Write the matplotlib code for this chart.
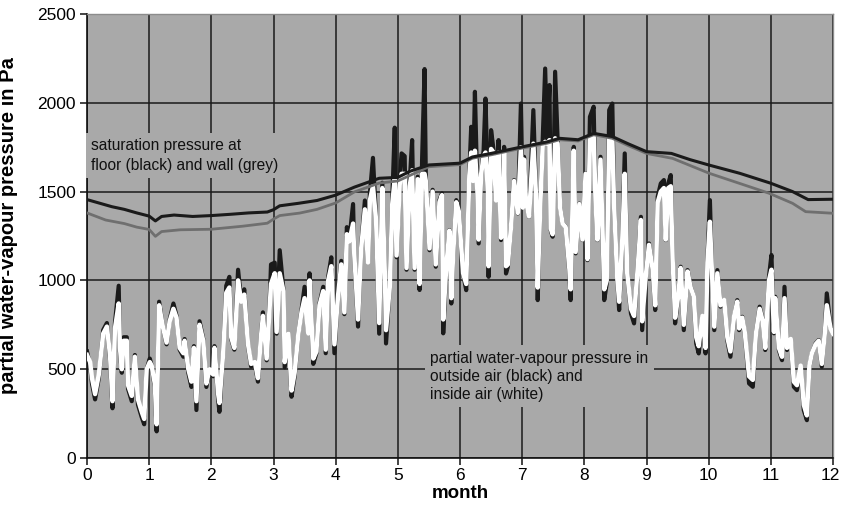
import matplotlib
matplotlib.use("Agg")
import matplotlib.pyplot as plt
from matplotlib.transforms import ScaledTranslation

plt.rcParams['font.family'] = ['Liberation Sans', 'DejaVu Sans']

# --- saturation pressure curves (month, Pa) ---
floor_t = [0, 0.2, 0.4, 0.6, 0.8, 1.0, 1.1, 1.2, 1.4, 1.7, 2.0, 2.3, 2.6, 2.9, 3.0, 3.1, 3.4, 3.7,
           4.0, 4.3, 4.7, 5.0, 5.2, 5.5, 6.0, 6.2, 6.5, 7.0, 7.4, 7.6, 7.9, 8.15, 8.45, 8.7, 9.0,
           9.4, 9.7, 10.0, 10.5, 11.0, 11.35, 11.6, 12.0]
floor_p = [1455, 1435, 1415, 1400, 1380, 1362, 1335, 1360, 1368, 1360, 1365, 1372, 1380, 1385,
           1398, 1420, 1434, 1450, 1480, 1525, 1575, 1580, 1615, 1650, 1660, 1695, 1715, 1752,
           1780, 1800, 1792, 1828, 1810, 1770, 1725, 1715, 1680, 1650, 1603, 1547, 1500, 1455, 1457]

wall_t = [0, 0.3, 0.6, 0.8, 1.0, 1.1, 1.2, 1.5, 2.0, 2.5, 2.9, 3.0, 3.1, 3.42, 3.7, 4.0, 4.3,
          4.7, 5.0, 5.5, 6.0, 6.2, 6.5, 7.0, 7.4, 7.6, 7.9, 8.15, 8.45, 8.7, 9.0, 9.42, 10.01,
          10.49, 10.97, 11.35, 11.56, 12.0]
wall_p = [1380, 1340, 1320, 1300, 1287, 1248, 1275, 1285, 1288, 1305, 1322, 1345, 1365, 1379,
          1400, 1436, 1498, 1548, 1560, 1640, 1652, 1688, 1707, 1745, 1772, 1792, 1785, 1820,
          1800, 1760, 1715, 1687, 1603, 1547, 1491, 1434, 1387, 1378]

# --- partial water-vapour pressure (month, outside Pa, inside Pa) ---
vap_t = [0.00, 0.05, 0.08, 0.13, 0.19, 0.26, 0.32, 0.37, 0.41, 0.45, 0.51, 0.53, 0.56, 0.59,
         0.64, 0.66, 0.72, 0.77, 0.82, 0.88, 0.92, 0.96, 1.01, 1.04, 1.09, 1.12, 1.16, 1.22,
         1.28, 1.33, 1.39, 1.44, 1.49, 1.55, 1.57, 1.63, 1.68, 1.72, 1.76, 1.81, 1.87, 1.92,
         1.97, 2.03, 2.05, 2.11, 2.13, 2.19, 2.24, 2.29, 2.32, 2.37, 2.43, 2.48, 2.53, 2.59,
         2.64, 2.70, 2.75, 2.80, 2.83, 2.89, 2.94, 2.96,
         3.02, 3.05, 3.10, 3.16, 3.18, 3.24, 3.29, 3.34, 3.40, 3.45, 3.50, 3.56, 3.58, 3.64,
         3.69, 3.74, 3.80, 3.84, 3.88, 3.93, 3.98, 4.04, 4.09, 4.14, 4.18, 4.22, 4.28, 4.30,
         4.36, 4.41, 4.47, 4.52, 4.55, 4.60, 4.65, 4.70, 4.75, 4.79, 4.81, 4.87, 4.91, 4.95,
         4.98, 5.03, 5.06, 5.11, 5.14, 5.19, 5.23, 5.27, 5.32, 5.35, 5.39, 5.43, 5.45, 5.51,
         5.56, 5.61, 5.67, 5.71, 5.73, 5.78, 5.83, 5.86, 5.89, 5.94, 5.98,
         6.05, 6.10, 6.15, 6.18, 6.21, 6.24, 6.28, 6.30, 6.34, 6.38, 6.41, 6.45, 6.46, 6.50,
         6.54, 6.58, 6.62, 6.66, 6.69, 6.71, 6.74, 6.77, 6.82, 6.87, 6.93, 6.98, 7.01, 7.03,
         7.06, 7.11, 7.18, 7.22, 7.25, 7.29, 7.33, 7.37, 7.40, 7.44, 7.46, 7.49, 7.53, 7.57,
         7.61, 7.65, 7.70, 7.76, 7.78, 7.83, 7.86, 7.92, 7.97, 8.02, 8.05, 8.09, 8.15, 8.18,
         8.21, 8.26, 8.32, 8.36, 8.40, 8.45, 8.48, 8.53, 8.56, 8.61, 8.65, 8.69, 8.75, 8.80,
         8.85, 8.91, 8.93, 8.99,
         9.04, 9.10, 9.14, 9.18, 9.23, 9.28, 9.31, 9.35, 9.39, 9.42, 9.46, 9.51, 9.55, 9.60,
         9.66, 9.71, 9.76, 9.80, 9.84, 9.90, 9.95, 9.98, 10.02, 10.05, 10.09, 10.14, 10.19,
         10.25, 10.30, 10.35, 10.41, 10.46, 10.49, 10.54, 10.58, 10.65, 10.71, 10.76, 10.82,
         10.87, 10.91, 10.97, 11.01, 11.05, 11.07, 11.13, 11.18, 11.22, 11.26, 11.32, 11.37,
         11.42, 11.48, 11.53, 11.58, 11.62, 11.66, 11.72, 11.77, 11.82, 11.87, 11.90, 11.96, 12.00]

outside_p = [600, 520, 420, 330, 450, 720, 760, 560, 280, 760, 970, 600, 480, 680,
             680, 390, 320, 580, 300, 230, 190, 500, 560, 520, 400, 150, 880, 740,
             640, 780, 870, 800, 610, 570, 670, 480, 400, 630, 270, 770, 670, 400,
             500, 460, 630, 330, 260, 590, 970, 1020, 670, 610, 1060, 890, 950, 630,
             515, 530, 430, 700, 820, 550, 890, 1090,
             1100, 700, 1170, 946, 510, 700, 345, 460, 700, 830, 964, 700, 1040, 530,
             590, 870, 964, 590, 1020, 1130, 590, 930, 1110, 810, 1300, 1230, 1430, 1130,
             740, 1190, 1450, 1100, 1490, 1690, 1340, 700, 1550, 1040, 645, 964, 1450, 1860,
             1130, 1565, 1715, 1700, 1060, 1546, 1790, 1060, 1584, 946, 1677, 2190, 1584, 1170,
             1510, 1077, 1452, 1490, 702, 1077, 1283, 870, 1152, 1452, 1396,
             1039, 945, 1602, 1865, 1565, 2062, 1508, 1208, 1602, 1734, 2024, 1508, 1020, 1846,
             1734, 1452, 1790, 1227, 1302, 1752, 1039, 1077, 1302, 1565, 1377, 1996, 1414, 1696,
             1452, 1358, 1959, 1508, 889, 1414, 1790, 2193, 1790, 2100, 1283, 1246, 2175, 1790,
             1414, 1321, 1302, 1039, 889, 1752, 1152, 1433, 1227, 1602, 1114, 1921, 1978, 1452,
             1227, 1696, 889, 983, 1959, 1996, 1414, 1002, 833, 1227, 1715, 1039, 814, 758,
             1039, 1358, 720, 1039,
             1208, 1058, 833, 1471, 1546, 1565, 1227, 1546, 1593, 1114, 758, 908, 1077, 720,
             1058, 964, 908, 645, 589, 795, 589, 1114, 1452, 1077, 720, 1058, 852,
             889, 664, 570, 795, 889, 720, 795, 702, 420, 401, 702, 852,
             777, 608, 1021, 1143, 702, 908, 608, 551, 964, 608, 664, 401,
             382, 514, 270, 213, 514, 589, 645, 664, 514, 720, 927, 739, 702]

inside_p = [580, 540, 450, 360, 470, 700, 740, 580, 320, 730, 870, 620, 500, 660,
            660, 410, 350, 570, 330, 260, 220, 500, 540, 520, 420, 190, 860, 740,
            650, 770, 840, 790, 620, 590, 660, 500, 430, 620, 320, 750, 660, 420,
            500, 470, 620, 360, 310, 590, 930, 960, 680, 620, 1000, 880, 920, 640,
            530, 540, 450, 690, 800, 560, 860, 980,
            1040, 710, 1040, 940, 540, 700, 380, 480, 700, 820, 900, 700, 1000, 560,
            600, 860, 940, 610, 1000, 1080, 640, 920, 1090, 820, 1260, 1220, 1320, 1140,
            780, 1180, 1400, 1100, 1450, 1530, 1340, 760, 1520, 1050, 720, 960, 1430, 1570,
            1140, 1540, 1600, 1600, 1070, 1530, 1620, 1070, 1570, 980, 1600, 1600, 1560, 1180,
            1500, 1090, 1440, 1480, 780, 1080, 1280, 900, 1150, 1440, 1390,
            1040, 980, 1590, 1720, 1560, 1730, 1500, 1230, 1600, 1700, 1720, 1500, 1080, 1740,
            1720, 1450, 1720, 1240, 1300, 1720, 1080, 1090, 1300, 1560, 1380, 1750, 1410, 1680,
            1450, 1360, 1770, 1500, 960, 1410, 1760, 1780, 1770, 1790, 1290, 1260, 1800, 1770,
            1410, 1320, 1300, 1060, 950, 1730, 1160, 1430, 1230, 1600, 1120, 1800, 1820, 1450,
            1230, 1680, 950, 1000, 1800, 1800, 1410, 1010, 880, 1230, 1600, 1040, 840, 800,
            1030, 1340, 770, 1030,
            1200, 1060, 860, 1440, 1500, 1520, 1230, 1520, 1530, 1120, 790, 910, 1070, 750,
            1050, 960, 910, 680, 630, 800, 620, 1100, 1330, 1070, 740, 1040, 860,
            890, 680, 600, 800, 880, 730, 790, 710, 460, 440, 700, 840,
            770, 620, 1000, 1060, 710, 900, 620, 570, 900, 620, 670, 430,
            410, 520, 300, 240, 520, 590, 640, 660, 530, 710, 860, 730, 700]

x_ticks = list(range(0, 13))
y_ticks = [0, 500, 1000, 1500, 2000, 2500]

BG = '#a9a9a9'

fig = plt.figure(figsize=(8.41, 5.08), dpi=100)
fig.patch.set_facecolor('white')
ax = fig.add_axes([87 / 841, 50 / 508, 746 / 841, 444 / 508])
ax.set_facecolor(BG)

ax.set_xlim(0, 12)
ax.set_ylim(0, 2500)
ax.set_xticks(x_ticks)
ax.set_yticks(y_ticks)
ax.grid(True, color='#1a1a1a', linewidth=1.1, zorder=0.5)
ax.set_axisbelow(True)

ax.plot(vap_t, outside_p, color='#1a1a1a', linewidth=3.0, zorder=2)
ax.plot(vap_t, inside_p, color='white', linewidth=3.2, zorder=3)
ax.plot(wall_t, wall_p, color='#6f6f6f', linewidth=2.0, zorder=4)
ax.plot(floor_t, floor_p, color='#1a1a1a', linewidth=2.2, zorder=5)

box = dict(facecolor=BG, edgecolor='none', pad=4)
ax.text(0.07, 1800, 'saturation pressure at\nfloor (black) and wall (grey)', fontsize=11.2,
        va='top', ha='left', linespacing=1.35, color='#111111', bbox=box, zorder=6)
ax.text(5.52, 605, 'partial water-vapour pressure in\noutside air (black) and\ninside air (white)',
        fontsize=11.2, va='top', ha='left', linespacing=1.25, color='#111111', bbox=box, zorder=6)

for s in ['left', 'bottom']:
    ax.spines[s].set_color('#111111')
    ax.spines[s].set_linewidth(1.2)
for s in ['top', 'right']:
    ax.spines[s].set_color('#8c8c8c')
    ax.spines[s].set_linewidth(1.0)

ax.tick_params(axis='both', direction='out', length=5, width=1.1, color='#111111')
ax.tick_params(axis='y', labelsize=12.5, pad=3)
ax.tick_params(axis='x', labelsize=12.5, pad=2)

# nudge the last x tick label slightly inward so it stays within the figure
last = ax.get_xticklabels()[-1]
last.set_transform(last.get_transform() + ScaledTranslation(-3 / 100, 0, fig.dpi_scale_trans))

ax.set_xlabel('month', fontsize=13.5, fontweight='bold', labelpad=2)
ax.set_ylabel('partial water-vapour pressure in Pa', fontsize=14.5, fontweight='bold', labelpad=6)
ax.yaxis.set_label_coords(-0.092, 0.523)

fig.savefig('out.png', dpi=100, facecolor='white')
